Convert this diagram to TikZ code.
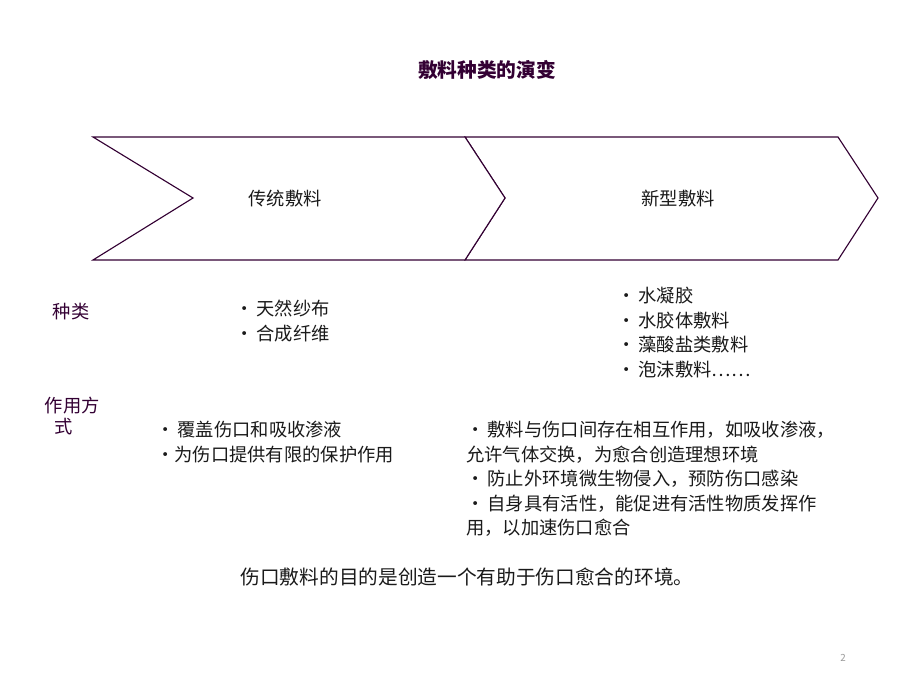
\documentclass[tikz,border=0pt]{standalone}
\usepackage{fontspec}
\setmainfont{Noto Sans CJK SC}
\definecolor{dmPurple}{HTML}{330033}
\definecolor{dmText}{HTML}{1A1A1A}
\definecolor{dmGray}{HTML}{999999}
\usetikzlibrary{positioning}
\begin{document}
\begin{tikzpicture}[x=0.025cm,y=-0.025cm,
  chev/.style={draw=dmPurple, fill=white, line width=0.8pt},
  head/.style={font=\fontsize{13}{15}\selectfont, text=dmText},
  cat/.style={font=\fontsize{13}{16}\selectfont, text=dmPurple, anchor=west, align=left},
  list/.style={font=\fontsize{13}{17.4}\selectfont, text=dmText, anchor=north west, align=left, inner sep=0pt}
]
  \useasboundingbox (0,0) rectangle (920,690);

  % Title
  \node[font=\fontsize{14}{16}\selectfont\bfseries, text=dmPurple] (title) at (487,70) {敷料种类的演变};

  % Chevrons
  \draw[chev] (465,137) -- (838,137) -- (878,198) -- (838,260) -- (465,260) -- (505,198) -- cycle;
  \draw[chev] (93,137) -- (465,137) -- (505,198) -- (465,260) -- (93,260) -- (193,198) -- cycle;
  \node[head] (old) at (285,199) {传统敷料};
  \node[head] (new) at (678,199) {新型敷料};

  % Row labels
  \node[cat] (kind) at (48,312) {种类};
  \node[cat, font=\fontsize{13}{17}\selectfont] (mode) at (40,416) {作用方\\[-2pt]\hspace{0.5em}式};

  % Lists
  \node[list] (kindold) at (235,300) {•\,天然纱布\\•\,合成纤维};
  \node[list] (kindnew) at (617,287) {•\,水凝胶\\•\,水胶体敷料\\•\,藻酸盐类敷料\\•\,泡沫敷料……};
  \node[list] (modeold) at (156,421) {•\,覆盖伤口和吸收渗液\\•为伤口提供有限的保护作用};
  \node[list, text width=420] (modenew) at (466,421) {•\,敷料与伤口间存在相互作用，如吸收渗液，\\允许气体交换，为愈合创造理想环境\\•\,防止外环境微生物侵入，预防伤口感染\\•\,自身具有活性，能促进有活性物质发挥作\\用，以加速伤口愈合};

  % Summary
  \node[font=\fontsize{14}{16}\selectfont, text=dmText] (goal) at (467,577) {伤口敷料的目的是创造一个有助于伤口愈合的环境。};
  \node[font=\fontsize{7}{8}\selectfont, text=dmGray] (page) at (843,658) {2};
\end{tikzpicture}
\end{document}
